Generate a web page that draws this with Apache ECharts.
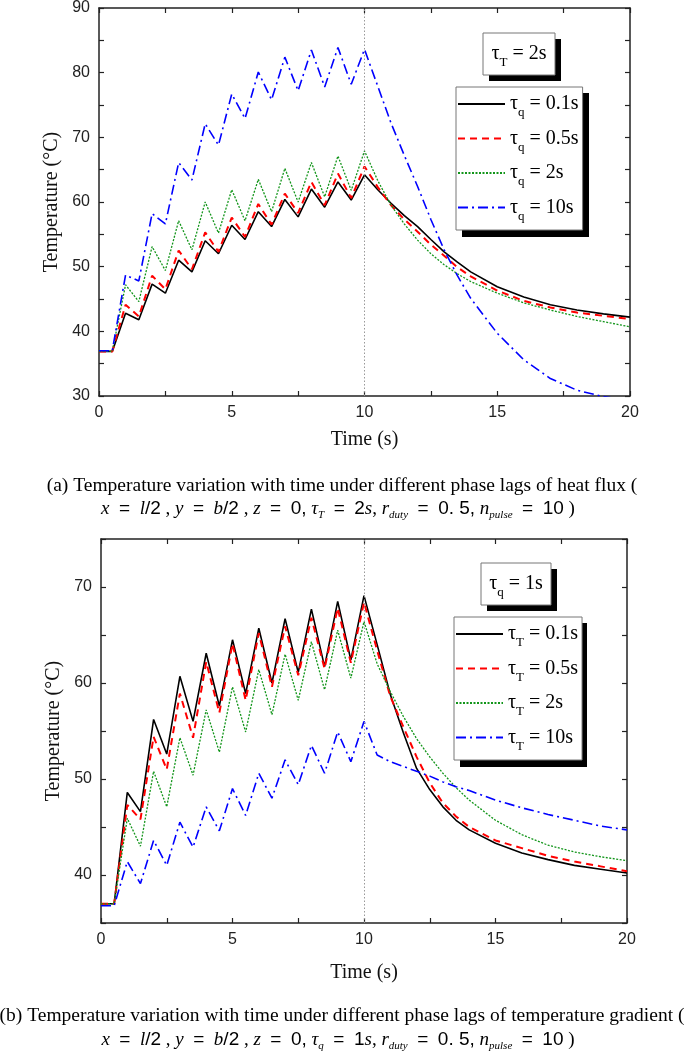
<!DOCTYPE html>
<html>
<head>
<meta charset="utf-8">
<script src="https://cdn.jsdelivr.net/npm/echarts@6.0.0/dist/echarts.min.js"></script>
<style>
  html, body { margin: 0; padding: 0; background: #fff; }
  #chart { width: 685px; height: 1055px; }
</style>
</head>
<body>
<div id="chart"></div>
<script>
// time samples (s), shared by every curve
var time = [0, 0.5, 1, 1.5, 2, 2.5, 3, 3.5, 4, 4.5, 5, 5.5, 6, 6.5, 7, 7.5, 8, 8.5, 9, 9.5, 10,
  10.5, 11, 11.5, 12, 12.5, 13, 13.5, 14, 15, 16, 17, 18, 19, 20];

// (a) tau_T = 2s, different tau_q
var lagsA = ['0.1s', '0.5s', '2s', '10s'];
var tempA1 = [36.9, 36.9, 42.8, 41.8, 47.3, 45.9, 51.0, 49.2, 54.0, 52.0, 56.4, 54.2, 58.5, 56.2, 60.4, 57.7, 62.0, 59.2, 63.1, 60.3, 64.2,
  61.9, 59.8, 57.9, 56.2, 54.2, 52.3, 50.7, 49.2, 46.9, 45.3, 44.1, 43.3, 42.7, 42.2];
var tempA2 = [36.9, 36.9, 44.1, 42.3, 48.6, 46.5, 52.5, 49.6, 55.3, 52.3, 57.6, 54.6, 59.7, 56.5, 61.3, 58.3, 63.1, 59.5, 64.4, 60.6, 65.5,
  62.3, 59.5, 57.3, 55.4, 53.4, 51.7, 49.9, 48.5, 46.3, 44.7, 43.7, 42.9, 42.4, 41.9];
var tempA3 = [36.9, 36.9, 47.2, 44.6, 53.1, 49.4, 57.1, 52.6, 60.0, 55.2, 61.9, 57.1, 63.5, 58.5, 65.2, 60.0, 66.1, 60.8, 67.1, 61.8, 67.9,
  63.3, 59.5, 56.6, 54.1, 52.0, 50.3, 48.9, 47.7, 45.9, 44.4, 43.3, 42.3, 41.5, 40.7];
var tempA4 = [37.0, 37.0, 48.7, 47.8, 58.2, 56.6, 66.1, 63.4, 72.1, 68.8, 76.7, 72.9, 80.1, 75.8, 82.4, 77.2, 83.5, 77.8, 83.9, 78.2, 83.6,
  77.9, 72.2, 67.2, 62.4, 57.3, 52.6, 48.6, 45.1, 39.7, 35.6, 32.7, 30.9, 29.9, 29.3];

// (b) tau_q = 1s, different tau_T
var lagsB = ['0.1s', '0.5s', '2s', '10s'];
var tempB1 = [37.0, 37.0, 48.6, 46.6, 56.2, 52.6, 60.7, 56.0, 63.1, 57.6, 64.5, 58.9, 65.7, 60.0, 66.7, 61.1, 67.7, 61.7, 68.5, 62.4, 69.1,
  64.0, 58.8, 54.8, 51.1, 48.9, 47.1, 45.7, 44.7, 43.3, 42.3, 41.6, 41.0, 40.6, 40.2];
var tempB2 = [37.0, 37.0, 47.3, 45.8, 54.4, 51.0, 58.9, 54.3, 62.2, 56.9, 64.1, 58.2, 65.2, 59.6, 65.9, 60.8, 66.8, 61.5, 67.8, 62.1, 68.4,
  63.4, 58.6, 55.4, 52.3, 49.6, 47.5, 46.1, 45.0, 43.6, 42.8, 42.0, 41.4, 40.9, 40.4];
var tempB3 = [37.0, 37.0, 45.9, 43.0, 50.8, 47.1, 54.3, 50.4, 57.2, 52.8, 59.6, 54.9, 61.4, 56.7, 63.0, 58.2, 64.3, 59.3, 65.5, 60.5, 66.4,
  62.0, 59.1, 56.5, 54.2, 52.3, 50.6, 49.1, 47.8, 45.7, 44.2, 43.1, 42.4, 41.9, 41.5];
var tempB4 = [36.8, 36.8, 41.4, 39.1, 43.6, 41.0, 45.5, 42.9, 47.1, 44.6, 49.0, 46.2, 50.6, 48.0, 52.0, 49.4, 53.5, 50.6, 54.9, 51.8, 56.0,
  52.5, 51.8, 51.3, 50.8, 50.3, 49.7, 49.2, 48.8, 47.8, 47.0, 46.3, 45.7, 45.1, 44.7];

var serif = 'Liberation Serif';
var sans = 'Liberation Sans';

var lineStyles = [
  { color: '#000000', width: 1.6, type: 'solid' },
  { color: '#ff0000', width: 2, type: [7, 5] },
  { color: '#12951a', width: 1.3, type: [2, 1.5] },
  { color: '#0000ff', width: 1.6, type: [10, 4, 2, 4] }
];

var richText = {
  a: { fontFamily: serif, fontSize: 20, color: '#000', lineHeight: 26 },
  s: { fontFamily: serif, fontSize: 13, color: '#000', padding: [18, 0, 0, 0] }
};

function makeSeries(name, values, idx, g) {
  var s = {
    name: name,
    type: 'line',
    xAxisIndex: g * 2,
    yAxisIndex: g * 2,
    data: time.map(function (t, i) { return [t, values[i]]; }),
    symbol: 'none',
    lineStyle: lineStyles[idx],
    itemStyle: { color: lineStyles[idx].color },
    animation: false
  };
  if (idx === 0) {
    s.markLine = {
      silent: true,
      symbol: ['none', 'none'],
      label: { show: false },
      lineStyle: { color: '#999', type: [1.5, 2], width: 1 },
      data: [{ xAxis: 10 }]
    };
  }
  return s;
}

function xAxes(g, nameGap) {
  var tick = { inside: true, length: 5, lineStyle: { color: '#222', width: 1.2 } };
  var line = { onZero: false, lineStyle: { color: '#222', width: 1.5 } };
  return [{
    type: 'value', gridIndex: g, position: 'bottom', min: 0, max: 20, interval: 2.5,
    name: 'Time (s)', nameLocation: 'middle', nameGap: nameGap,
    nameTextStyle: { fontFamily: serif, fontSize: 20, color: '#111' },
    axisLine: line, axisTick: tick, splitLine: { show: false },
    axisLabel: {
      fontFamily: sans, fontSize: 16, color: '#222', margin: 9,
      formatter: function (v) { return v % 5 === 0 ? String(v) : ''; }
    }
  }, {
    type: 'value', gridIndex: g, position: 'top', min: 0, max: 20, interval: 2.5,
    axisLine: line, axisTick: tick, splitLine: { show: false }, axisLabel: { show: false }
  }];
}

function yAxes(g, min, max) {
  var tick = { inside: true, length: 5, lineStyle: { color: '#222', width: 1.2 } };
  var line = { onZero: false, lineStyle: { color: '#222', width: 1.5 } };
  return [{
    type: 'value', gridIndex: g, position: 'left', min: min, max: max, interval: 5,
    name: 'Temperature (°C)', nameLocation: 'middle', nameGap: 26,
    nameTextStyle: { fontFamily: serif, fontSize: 20, color: '#111' },
    axisLine: line, axisTick: tick, splitLine: { show: false },
    axisLabel: {
      fontFamily: sans, fontSize: 16, color: '#222', margin: 9,
      formatter: function (v) { return v % 10 === 0 ? String(v) : ''; }
    }
  }, {
    type: 'value', gridIndex: g, position: 'right', min: min, max: max, interval: 5,
    axisLine: line, axisTick: tick, splitLine: { show: false }, axisLabel: { show: false }
  }];
}

function makeLegend(names, sub, left, top) {
  return {
    data: names,
    orient: 'vertical',
    left: left,
    top: top,
    z: 20,
    itemWidth: 47,
    itemHeight: 14,
    itemGap: 9,
    padding: [7, 4, 7, 1],
    backgroundColor: '#fff',
    borderColor: '#777',
    borderWidth: 1,
    selectedMode: false,
    itemStyle: { opacity: 0 },
    formatter: function (name) {
      return '{a|τ}{s|' + sub + '}{a| = ' + name.split(' = ')[1] + '}';
    },
    textStyle: { rich: richText }
  };
}

// solid black drop shadow placed behind a legend box
function legendShadow(x, y, w, h) {
  return { type: 'rect', z: 5, shape: { x: x + 6, y: y + 6, width: w, height: h }, style: { fill: '#000' } };
}

function paramBox(x, y, w, h, main, sub, val) {
  return [
    { type: 'rect', z: 10, shape: { x: x + 6, y: y + 6, width: w, height: h }, style: { fill: '#000' } },
    { type: 'rect', z: 11, shape: { x: x, y: y, width: w, height: h }, style: { fill: '#fff', stroke: '#777', lineWidth: 1 } },
    {
      type: 'text', z: 12, x: x + w / 2, y: y + h / 2,
      style: { text: '{a|' + main + '}{s|' + sub + '}{a| = ' + val + '}', rich: richText, align: 'center', verticalAlign: 'middle' }
    }
  ];
}

var capRich = {
  i: { fontFamily: serif, fontStyle: 'italic', fontSize: 19, color: '#000' },
  n: { fontFamily: sans, fontSize: 19, color: '#000' },
  t: { fontFamily: serif, fontSize: 19, color: '#000' },
  u: { fontFamily: serif, fontStyle: 'italic', fontSize: 11, color: '#000', padding: [12, 0, 0, 0] }
};

function captionLine2(tauSym, tauSub, tauVal) {
  return '{i|x}{t|  }{n|=}{t|  }{i|l}{n|/2}{t| , }{i|y}{t|  }{n|=}{t|  }{i|b}{n|/2}{t| , }{i|z}{t|  }{n|=}{t|  }{n|0,}{t| }' +
    '{i|' + tauSym + '}{u|' + tauSub + '}{t|  }{n|=}{t|  }{n|' + tauVal + '}{i|s}{t|, }{i|r}{u|duty}{t|  }{n|=}{t|  }{n|0. 5,}{t| }' +
    '{i|n}{u|pulse}{t|  }{n|=}{t|  }{n|10}{t| )}';
}

function caption(y, text) {
  return { type: 'text', z: 12, x: 342, y: y, style: { text: text, fontFamily: serif, fontSize: 19.5, fill: '#000', align: 'center', verticalAlign: 'middle' } };
}
function captionRich(y, text) {
  return { type: 'text', z: 12, x: 338, y: y, style: { text: text, rich: capRich, align: 'center', verticalAlign: 'middle' } };
}

var namesA = lagsA.map(function (v) { return 'τq = ' + v; });
var namesB = lagsB.map(function (v) { return 'τT = ' + v; });

var chart = echarts.init(document.getElementById('chart'));

var option = {
  animation: false,
  backgroundColor: '#fff',
  grid: [
    { left: 99, top: 8, width: 531, height: 388 },
    { left: 101, top: 539, width: 526, height: 384 }
  ],
  xAxis: xAxes(0, 34).concat(xAxes(1, 40)),
  yAxis: yAxes(0, 30, 90).concat(yAxes(1, 35, 75)),
  legend: [
    makeLegend(namesA, 'q', 456, 87),
    makeLegend(namesB, 'T', 454, 617)
  ],
  series: [
    makeSeries(namesA[0], tempA1, 0, 0),
    makeSeries(namesA[1], tempA2, 1, 0),
    makeSeries(namesA[2], tempA3, 2, 0),
    makeSeries(namesA[3], tempA4, 3, 0),
    makeSeries(namesB[0], tempB1, 0, 1),
    makeSeries(namesB[1], tempB2, 1, 1),
    makeSeries(namesB[2], tempB3, 2, 1),
    makeSeries(namesB[3], tempB4, 3, 1)
  ],
  graphic: [].concat(
    [legendShadow(456, 87, 127, 144), legendShadow(454, 617, 127, 144)],
    paramBox(483, 33, 72, 42, 'τ', 'T', '2s'),
    paramBox(481, 563, 70, 42, 'τ', 'q', '1s'),
    [
      caption(486, '(a) Temperature variation with time under different phase lags of heat flux ('),
      captionRich(509, captionLine2('τ', 'T', '2')),
      caption(1016, '(b) Temperature variation with time under different phase lags of temperature gradient ('),
      captionRich(1040, captionLine2('τ', 'q', '1'))
    ]
  )
};

chart.setOption(option);
</script>
</body>
</html>
